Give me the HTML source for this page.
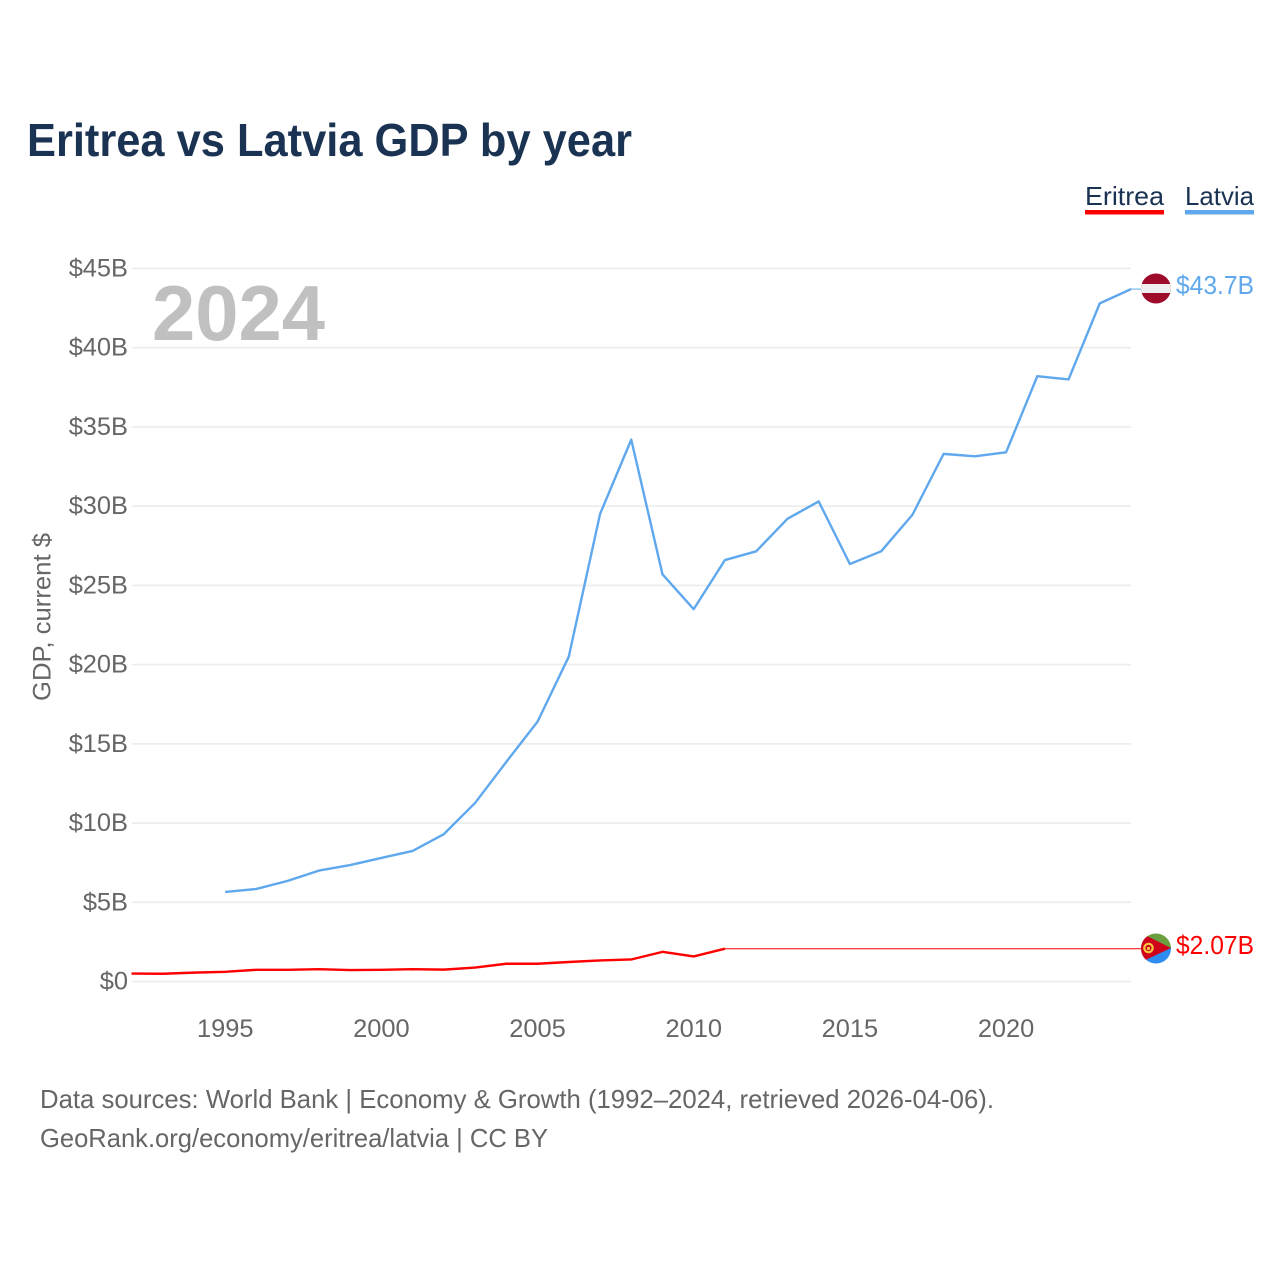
<!DOCTYPE html>
<html lang="en">
<head>
<meta charset="utf-8">
<title>Eritrea vs Latvia GDP by year</title>
<style>
html,body{margin:0;padding:0;background:#fff;width:1280px;height:1280px;overflow:hidden}
svg{display:block;font-family:"Liberation Sans",sans-serif}
</style>
</head>
<body>
<svg id="chart" xmlns="http://www.w3.org/2000/svg" width="1280" height="1280" viewBox="0 0 1280 1280">
  <rect x="0" y="0" width="1280" height="1280" fill="#fff"/>
  <text x="27" y="156" font-size="46" font-weight="700" fill="#1a3353" textLength="605" lengthAdjust="spacingAndGlyphs">Eritrea vs Latvia GDP by year</text>
  <g>
    <text x="1085" y="205" font-size="26" fill="#1a3353" textLength="79" lengthAdjust="spacingAndGlyphs">Eritrea</text>
    <rect x="1085" y="210" width="79" height="4.5" fill="#ff0000"/>
  </g>
  <g>
    <text x="1185" y="205" font-size="26" fill="#1a3353" textLength="69" lengthAdjust="spacingAndGlyphs">Latvia</text>
    <rect x="1185" y="210" width="69" height="4.5" fill="#5fa8ee"/>
  </g>
  <g id="grid"></g>
  <g id="y-axis"></g>
  <g id="x-axis"></g>
  <text transform="translate(50.5,617) rotate(-90)" text-anchor="middle" font-size="25" fill="#666" textLength="168" lengthAdjust="spacingAndGlyphs">GDP, current $</text>
  <text x="152" y="340" font-size="78" font-weight="700" fill="#c0c0c0" textLength="173" lengthAdjust="spacingAndGlyphs">2024</text>
  <g id="series"></g>
  <defs>
    <clipPath id="clip-latvia"><circle cx="1156" cy="288.5" r="15"/></clipPath>
    <clipPath id="clip-eritrea"><circle cx="1156" cy="948.5" r="15"/></clipPath>
  </defs>
  <g clip-path="url(#clip-latvia)">
    <rect x="1141" y="273" width="30" height="31" fill="#9e0b2a"/>
    <rect x="1141" y="284" width="30" height="9" fill="#eeeeee"/>
  </g>
  <g clip-path="url(#clip-eritrea)">
    <rect x="1141" y="933" width="30" height="16" fill="#6aa040"/>
    <rect x="1141" y="948" width="30" height="17" fill="#2f8cf0"/>
    <polygon points="1141,933 1171,948 1141,962" fill="#d0021b"/>
    <circle cx="1148.5" cy="948" r="4.2" fill="none" stroke="#f5c842" stroke-width="2.2"/>
    <circle cx="1148.5" cy="948.5" r="1.6" fill="#f5c842"/>
  </g>
  <text id="label-latvia" x="1176" y="294" font-size="26" fill="#5fa8ee" textLength="78" lengthAdjust="spacingAndGlyphs">$43.7B</text>
  <text id="label-eritrea" x="1176" y="954" font-size="26" fill="#ff0000" textLength="78" lengthAdjust="spacingAndGlyphs">$2.07B</text>
  <text x="40" y="1108" font-size="26" fill="#666" textLength="954" lengthAdjust="spacingAndGlyphs">Data sources: World Bank | Economy &amp; Growth (1992–2024, retrieved 2026-04-06).</text>
  <text x="40" y="1147" font-size="26" fill="#666" textLength="508" lengthAdjust="spacingAndGlyphs">GeoRank.org/economy/eritrea/latvia | CC BY</text>
</svg>
<script>
const yTickValues = [0, 5, 10, 15, 20, 25, 30, 35, 40, 45];
const yTickLabels = ["$0", "$5B", "$10B", "$15B", "$20B", "$25B", "$30B", "$35B", "$40B", "$45B"];
const xTickValues = [1995, 2000, 2005, 2010, 2015, 2020];
const xTickLabels = ["1995", "2000", "2005", "2010", "2015", "2020"];
const eritreaYears = [1992,1993,1994,1995,1996,1997,1998,1999,2000,2001,2002,2003,2004,2005,2006,2007,2008,2009,2010,2011];
const eritreaValues = [0.5,0.49,0.56,0.61,0.74,0.74,0.78,0.72,0.74,0.78,0.75,0.88,1.12,1.12,1.23,1.33,1.39,1.87,1.58,2.07];
const latviaYears = [1995,1996,1997,1998,1999,2000,2001,2002,2003,2004,2005,2006,2007,2008,2009,2010,2011,2012,2013,2014,2015,2016,2017,2018,2019,2020,2021,2022,2023,2024];
const latviaValues = [5.65,5.84,6.35,7.0,7.35,7.8,8.24,9.3,11.27,13.86,16.4,20.5,29.5,34.2,25.7,23.5,26.6,27.15,29.2,30.3,26.35,27.15,29.45,33.3,33.15,33.4,38.2,38.0,42.8,43.7];

const NS = "http://www.w3.org/2000/svg";
const x = (year) => 131.5 + (year - 1992) * (1131 - 131.5) / 32;
const y = (value) => 981.5 - value * (981.5 - 268.5) / 45;
const FLAG_X = 1141;

function make(tag, attrs, parent) {
  const el = document.createElementNS(NS, tag);
  for (const k in attrs) el.setAttribute(k, attrs[k]);
  parent.appendChild(el);
  return el;
}

const grid = document.getElementById("grid");
const yAxis = document.getElementById("y-axis");
yTickValues.forEach((v, i) => {
  const line = make("line", {x1: 132, x2: 1131, y1: y(v), y2: y(v), stroke: "#ececec", "stroke-width": 1.6}, grid);
  
  
  const t = make("text", {x: 128, y: y(v) + 8, "text-anchor": "end", "font-size": 25.4, fill: "#666"}, yAxis);
  
  
  t.textContent = yTickLabels[i];
});

const xAxis = document.getElementById("x-axis");
xTickValues.forEach((v, i) => {
  const t = make("text", {x: x(v), y: 1037, "text-anchor": "middle", "font-size": 25.4, fill: "#666"}, xAxis);
  
  
  t.textContent = xTickLabels[i];
});

const series = document.getElementById("series");
function pts(years, values) {
  return years.map((yr, i) => x(yr).toFixed(2) + "," + y(values[i]).toFixed(2)).join(" ");
}
function lastY(values) { return y(values[values.length - 1]); }
function lastX(years) { return x(years[years.length - 1]); }

const eritreaLeader = make("line", {x1: lastX(eritreaYears), y1: lastY(eritreaValues), x2: FLAG_X, y2: lastY(eritreaValues), stroke: "#ff0000", "stroke-width": 1}, series);


const latviaLeader = make("line", {x1: lastX(latviaYears), y1: lastY(latviaValues), x2: FLAG_X, y2: lastY(latviaValues), stroke: "#5fa8ee", "stroke-width": 1}, series);



const eritreaLine = make("polyline", {points: pts(eritreaYears, eritreaValues), fill: "none", stroke: "#ff0000", "stroke-width": 2.4, "stroke-linejoin": "round"}, series);


const latviaLine = make("polyline", {points: pts(latviaYears, latviaValues), fill: "none", stroke: "#5fa8ee", "stroke-width": 2.4, "stroke-linejoin": "round"}, series);


</script>
</body>
</html>
